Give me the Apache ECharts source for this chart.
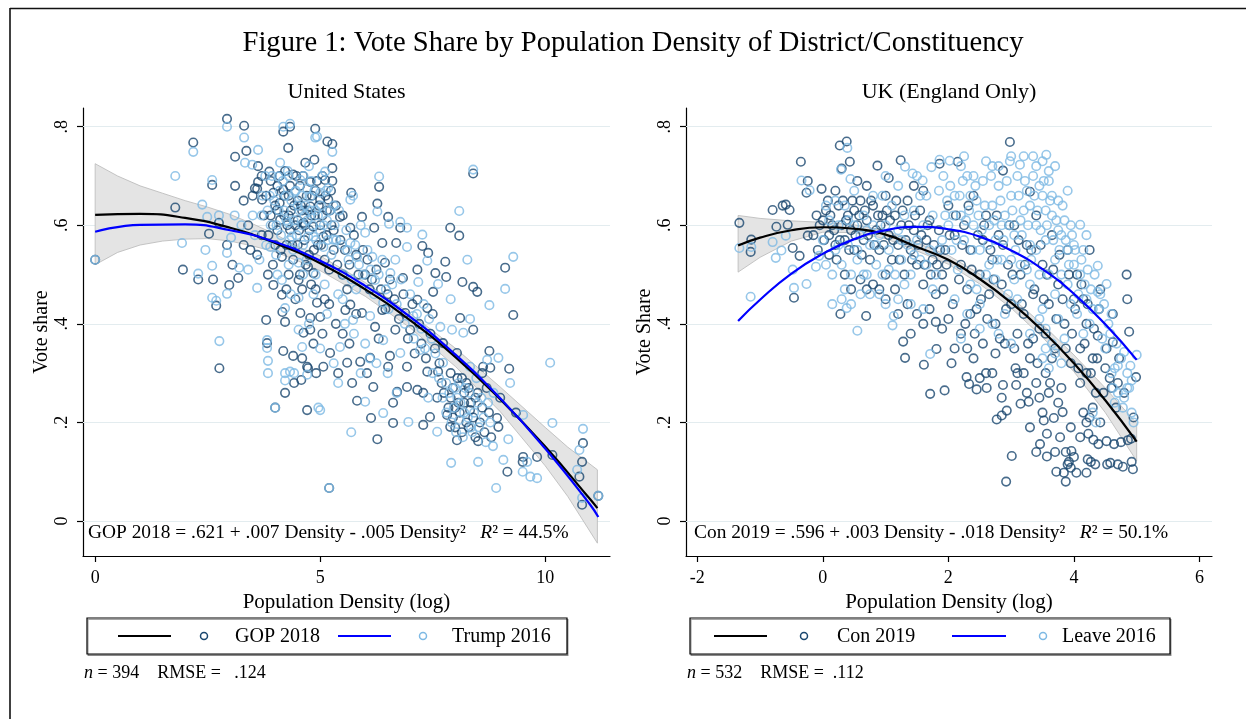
<!DOCTYPE html>
<html><head><meta charset="utf-8">
<script src="https://cdn.jsdelivr.net/npm/echarts@6/dist/echarts.min.js"></script>
<style>html,body{margin:0;padding:0;background:#fff}#c{width:1246px;height:719px}</style>
</head><body><div id="c"></div>
<script>
// ---------- DATA ----------
const yTicks = [0, 0.2, 0.4, 0.6, 0.8];
const usXTicks = [0, 5, 10];
const ukXTicks = [-2, 0, 2, 4, 6];

const usGOP = [
[0,0.53],[1.78,0.636],[1.95,0.51],[2.18,0.768],[2.29,0.49],[2.53,0.583],[2.6,0.682],[2.62,0.49],[2.69,0.437],[2.76,0.31],[2.93,0.816],[2.93,0.56],[2.98,0.479],[3.11,0.739],[3.11,0.68],[3.18,0.493],[3.31,0.802],[3.36,0.751],[3.4,0.6],[3.3,0.65],[3.05,0.52],[2.75,0.605],[3.5,0.66],[3.55,0.675],[3.62,0.72],[3.6,0.674],[3.62,0.688],[3.71,0.652],[3.45,0.55],[3.6,0.54],[3.7,0.58],[3.3,0.56],
[3.8,0.408],[3.82,0.361],[3.84,0.5],[3.87,0.709],[3.96,0.666],[3.96,0.479],[4.04,0.631],[4.11,0.611],[4.15,0.536],[4.15,0.459],[4.16,0.424],[4.18,0.345],[4.18,0.79],[4.18,0.672],[4.22,0.404],[4.22,0.26],[4.29,0.757],[4.33,0.8],[4.33,0.591],[4.4,0.703],[4.4,0.53],[4.4,0.335],[4.42,0.28],[4.52,0.489],[4.56,0.422],[4.58,0.286],[4.0,0.23],[4.63,0.382],[4.63,0.605],[4.67,0.727],[4.71,0.225],[4.71,0.313],[4.73,0.31],[4.73,0.516],[4.78,0.688],[4.78,0.412],[4.78,0.638],[4.78,0.388],[4.85,0.503],[4.85,0.597],[4.87,0.733],[4.89,0.796],[4.91,0.3],[4.93,0.443],
[3.9,0.62],[4.0,0.56],[4.05,0.68],[4.1,0.645],[4.2,0.62],[4.25,0.56],[4.3,0.66],[4.35,0.63],[4.45,0.6],[4.5,0.65],[4.5,0.56],[4.55,0.68],[4.6,0.63],[4.65,0.57],[4.7,0.66],[4.75,0.54],[4.8,0.62],[4.9,0.67],[4.95,0.56],[5.0,0.6],[5.0,0.652],[5.05,0.7],[5.07,0.577],[5.1,0.53],[5.11,0.692],[5.15,0.63],[5.16,0.77],[5.18,0.652],[5.2,0.51],[5.25,0.6],[5.27,0.765],[5.27,0.716],[5.27,0.69],[5.3,0.55],[4.3,0.5],[4.6,0.47],[4.9,0.47],[5.1,0.45],
[3.7,0.7],[3.75,0.62],[3.8,0.66],[3.85,0.58],[3.9,0.69],[3.95,0.6],[4.0,0.64],[4.05,0.59],[4.1,0.7],[4.12,0.55],[4.2,0.66],[4.22,0.71],[4.27,0.6],[4.3,0.62],[4.33,0.68],[4.38,0.56],[4.42,0.64],[4.47,0.7],[4.5,0.61],[4.53,0.59],[4.57,0.64],[4.62,0.7],[4.66,0.6],[4.68,0.52],[4.72,0.63],[4.76,0.59],[4.82,0.66],[4.86,0.55],[4.88,0.62],[4.93,0.69],[4.97,0.64],[5.02,0.56],[5.05,0.62],[5.12,0.66],[5.14,0.58],[5.22,0.63],[5.24,0.67],[5.3,0.59],[5.35,0.64],[5.38,0.52],[5.45,0.57],[5.5,0.62],[5.55,0.55],[5.6,0.47],[5.65,0.52],[5.75,0.58],[5.85,0.5],[5.95,0.55],[6.05,0.53],[6.15,0.49],[6.25,0.51],[6.35,0.47],[6.45,0.43],[6.55,0.49],[6.65,0.45],[6.75,0.41],[6.85,0.46],[6.95,0.37],[7.05,0.44],[7.1,0.34],[7.2,0.4],[7.25,0.36],[7.35,0.33],[7.45,0.38],[7.5,0.42],[7.55,0.35],[7.65,0.32],[7.75,0.26],[7.85,0.23],[7.9,0.25],[7.95,0.21],[8.0,0.19],[8.05,0.29],[8.1,0.22],[8.15,0.18],[8.2,0.24],[8.25,0.28],[8.3,0.19],[8.35,0.24],[8.4,0.21],[8.45,0.17],[8.5,0.26],[8.55,0.2],[8.6,0.23],[8.65,0.18],[8.7,0.27],[8.75,0.22],[8.8,0.17],[3.95,0.52],[4.25,0.47],[4.45,0.45],[4.55,0.5],[4.8,0.48],[5.2,0.44],[5.35,0.4],[5.65,0.36],[5.8,0.42],[6.3,0.37],[4.6,0.33],[4.85,0.36],[5.05,0.38],
[5.0,0.414],[5.07,0.313],[5.2,0.067],[5.22,0.341],[5.4,0.3],[5.44,0.617],[5.5,0.5],[5.56,0.428],[5.6,0.321],[5.67,0.439],[5.67,0.595],[5.69,0.666],[5.71,0.28],[5.8,0.54],[5.82,0.244],[5.89,0.323],[5.93,0.617],[5.93,0.422],[6.04,0.3],[6.11,0.331],[6.13,0.209],[6.18,0.272],[6.2,0.595],[6.22,0.394],[6.27,0.644],[6.27,0.166],[6.31,0.678],[6.38,0.564],[6.38,0.428],[6.44,0.524],[6.51,0.617],[6.51,0.313],[6.55,0.335],[6.62,0.24],[6.62,0.199],[6.67,0.388],[6.69,0.564],[6.71,0.262],[6.78,0.595],[6.84,0.493],[6.89,0.422],[6.93,0.313],[6.93,0.272],[6.0,0.5],[6.1,0.47],[5.5,0.38],[6.5,0.46],
[7.0,0.388],[7.16,0.51],[7.16,0.449],[7.16,0.266],[7.27,0.558],[7.29,0.26],[7.29,0.195],[7.38,0.432],[7.38,0.303],[7.4,0.544],[7.44,0.211],[7.51,0.465],[7.56,0.503],[7.62,0.303],[7.73,0.361],[7.78,0.526],[7.8,0.495],[7.82,0.215],[7.89,0.595],[7.89,0.191],[7.95,0.27],[8.0,0.23],[8.04,0.341],[8.04,0.164],[8.07,0.24],[8.09,0.579],[8.11,0.412],[8.16,0.485],[8.2,0.26],[8.25,0.2],[8.33,0.225],[8.4,0.705],[8.4,0.475],[8.4,0.388],[8.45,0.25],[8.49,0.465],[8.51,0.162],[8.6,0.3],[8.62,0.313],[8.76,0.345],[8.78,0.311],[8.93,0.209],[8.96,0.191],[7.6,0.25],[7.7,0.28],[7.9,0.3],[8.15,0.29],[8.3,0.27],
[9.11,0.514],[9.16,0.1],[9.2,0.309],[9.29,0.418],[9.5,0.12],[9.51,0.13],[9.82,0.13],[10.16,0.134],[10.84,0.158],[10.82,0.12],[10.76,0.09],[10.82,0.033],[11.18,0.051],[9.0,0.25],[9.35,0.22]
];

const usTrump = [
[0,0.53],[1.78,0.70],[1.93,0.564],[2.18,0.749],[2.29,0.502],[2.38,0.642],[2.45,0.55],[2.49,0.617],[2.6,0.518],[2.6,0.453],[2.6,0.692],[2.69,0.447],[2.75,0.62],[2.76,0.365],[2.93,0.8],[2.93,0.544],[2.93,0.461],[3.02,0.575],[3.1,0.62],[3.2,0.514],[3.25,0.6],[3.31,0.778],[3.33,0.727],[3.4,0.51],[3.49,0.723],[3.5,0.62],[3.55,0.58],[3.6,0.473],[3.62,0.753],[3.65,0.53],[3.7,0.62],[3.8,0.56],[3.82,0.367],[3.82,0.351],[3.84,0.325],[3.84,0.3],[3.9,0.6],
[3.89,0.556],[4.0,0.23],[4.02,0.54],[4.07,0.699],[4.11,0.727],[4.15,0.489],[4.18,0.8],[4.2,0.63],[4.22,0.432],[4.22,0.3],[4.22,0.285],[4.25,0.61],[4.29,0.605],[4.33,0.806],[4.33,0.303],[4.37,0.577],[4.42,0.3],[4.44,0.668],[4.5,0.64],[4.52,0.524],[4.52,0.453],[4.52,0.388],[4.56,0.692],[4.6,0.353],[4.63,0.7],[4.65,0.62],[4.71,0.674],[4.71,0.297],[4.73,0.577],[4.78,0.658],[4.85,0.577],[4.89,0.778],[4.93,0.78],[4.96,0.23],[5.0,0.666],[5.0,0.225],[5.07,0.556],[5.11,0.709],[5.18,0.676],[5.2,0.067],[5.27,0.749],[5.29,0.571],[5.3,0.64],[4.1,0.67],[4.3,0.7],[4.4,0.55],[4.6,0.6],[4.7,0.53],[4.8,0.69],[4.9,0.63],[5.0,0.59],[5.15,0.61],[4.35,0.46],[4.9,0.5],[5.1,0.48],
[3.72,0.66],[3.78,0.7],[3.83,0.63],[3.88,0.66],[3.93,0.7],[3.98,0.65],[4.03,0.6],[4.08,0.63],[4.13,0.58],[4.17,0.69],[4.23,0.66],[4.28,0.71],[4.32,0.57],[4.36,0.65],[4.41,0.61],[4.46,0.67],[4.48,0.58],[4.54,0.63],[4.58,0.66],[4.62,0.56],[4.67,0.64],[4.72,0.61],[4.75,0.72],[4.79,0.63],[4.83,0.6],[4.87,0.67],[4.91,0.57],[4.95,0.62],[5.02,0.64],[5.04,0.7],[5.08,0.6],[5.13,0.67],[5.17,0.57],[5.21,0.63],[5.25,0.54],[5.32,0.6],[5.36,0.57],[5.42,0.63],[5.48,0.56],[5.52,0.5],[5.58,0.59],[5.63,0.53],[5.7,0.49],[5.78,0.56],[5.86,0.52],[5.95,0.5],[6.05,0.55],[6.12,0.51],[6.2,0.46],[6.3,0.5],[6.38,0.53],[6.46,0.47],[6.52,0.43],[6.6,0.48],[6.7,0.44],[6.8,0.49],[6.88,0.4],[7.0,0.46],[7.08,0.37],[7.15,0.42],[7.25,0.39],[7.33,0.35],[7.42,0.41],[7.48,0.37],[7.56,0.34],[7.64,0.29],[7.72,0.25],[7.8,0.22],[7.87,0.26],[7.92,0.2],[7.97,0.23],[8.02,0.18],[8.08,0.28],[8.12,0.24],[8.17,0.17],[8.22,0.27],[8.28,0.21],[8.32,0.26],[8.38,0.18],[8.42,0.22],[8.47,0.29],[8.53,0.19],[8.58,0.25],[8.63,0.21],[8.68,0.16],[8.73,0.24],[8.78,0.2],[8.85,0.26],[4.05,0.5],[4.3,0.52],[4.62,0.5],[4.85,0.46],[5.15,0.42],[5.4,0.46],[5.55,0.4],[5.75,0.38],[6.0,0.36],[6.25,0.32],[4.75,0.4],[5.0,0.35],[5.3,0.32],
[5.44,0.353],[5.6,0.55],[5.67,0.652],[5.67,0.564],[5.69,0.18],[5.73,0.66],[5.73,0.408],[5.82,0.536],[5.9,0.6],[6.0,0.585],[6.0,0.242],[6.11,0.416],[6.16,0.536],[6.22,0.489],[6.27,0.628],[6.31,0.699],[6.4,0.443],[6.4,0.367],[6.4,0.219],[6.53,0.603],[6.56,0.503],[6.67,0.53],[6.78,0.607],[6.78,0.341],[6.93,0.595],[6.93,0.556],[6.96,0.201],[5.5,0.45],[5.8,0.47],[6.1,0.33],[6.5,0.3],[6.7,0.26],[5.4,0.28],[5.9,0.3],
[7.07,0.416],[7.18,0.485],[7.22,0.347],[7.27,0.581],[7.38,0.528],[7.4,0.25],[7.6,0.181],[7.62,0.481],[7.67,0.394],[7.73,0.321],[7.91,0.118],[7.93,0.388],[8.05,0.25],[8.09,0.629],[8.09,0.205],[8.18,0.382],[8.2,0.22],[8.27,0.53],[8.33,0.41],[8.33,0.313],[8.35,0.19],[8.4,0.713],[8.51,0.12],[8.71,0.327],[8.76,0.438],[8.84,0.152],[8.91,0.067],[8.96,0.331],[7.5,0.3],[7.8,0.28],[8.0,0.27],[8.5,0.24],[7.3,0.44],[7.9,0.45],
[9.07,0.124],[9.11,0.471],[9.18,0.166],[9.22,0.28],[9.29,0.536],[9.5,0.1],[9.51,0.215],[9.6,0.12],[9.67,0.09],[9.82,0.087],[10.11,0.321],[10.16,0.199],[10.84,0.187],[10.76,0.144],[10.71,0.104],[10.82,0.047],[11.18,0.051]
];

const usFitGOP = [[0,0.621],[1,0.623],[2,0.615],[3,0.595],[4,0.564],[5,0.523],[6,0.470],[7,0.407],[8,0.333],[9,0.247],[10,0.151],[11,0.044],[11.16,0.026]];
const usFitTrump = [[0,0.587],[1,0.601],[2,0.602],[3,0.590],[4,0.566],[5,0.528],[6,0.477],[7,0.414],[8,0.338],[9,0.249],[10,0.147],[11,0.033],[11.18,0.008]];
// [x, lower, upper]
const usBandGOP = [[0,0.520,0.725],[0.5,0.545,0.700],[1,0.560,0.680],[1.5,0.568,0.665],[2,0.572,0.650],[2.5,0.573,0.637],[3,0.568,0.622],[3.5,0.558,0.603],[4,0.546,0.582],[4.5,0.528,0.557],[5,0.508,0.538],[6,0.456,0.484],[7,0.392,0.421],[8,0.314,0.351],[9,0.222,0.272],[10,0.112,0.190],[10.5,0.050,0.150],[11.16,-0.045,0.104]];

const ukCon = [
[-1.33,0.605],[-1.14,0.571],[-1.15,0.546],[-0.80,0.631],[-0.64,0.64],[-0.59,0.642],[-0.53,0.631],[-0.74,0.597],[-0.56,0.601],[-0.48,0.554],[-0.37,0.538],[-0.46,0.453],[-0.35,0.729],[-0.24,0.69],[-0.26,0.666],[-0.24,0.579],[-0.02,0.674],[0.27,0.762],[0.38,0.77],[0.30,0.715],[0.43,0.729],[0.28,0.42],[0.69,0.416],[0.87,0.721],[1.24,0.732],[1.05,0.696],[1.28,0.364],[1.31,0.331],[1.61,0.317],[1.80,0.404],[1.81,0.349],
[-0.1,0.62],[-0.05,0.6],[0.05,0.63],[0.1,0.58],[0.15,0.6],[0.2,0.56],[0.1,0.54],[0.25,0.64],[0.3,0.6],[0.35,0.57],[0.4,0.62],[0.45,0.59],[0.5,0.55],[0.5,0.63],[0.55,0.6],[0.6,0.65],[0.65,0.57],[0.7,0.61],[0.75,0.53],[0.8,0.64],[0.85,0.59],[0.9,0.55],[0.95,0.62],[1.0,0.5],[1.0,0.66],[1.05,0.58],[1.1,0.53],[1.15,0.62],[1.2,0.56],[1.25,0.6],[1.3,0.5],[1.35,0.65],[1.4,0.55],[1.45,0.59],[1.5,0.52],[1.55,0.63],[1.6,0.48],[1.65,0.57],[1.7,0.61],[1.75,0.53],[1.8,0.46],[1.85,0.59],[1.9,0.5],[1.95,0.55],[0.6,0.49],[0.7,0.47],[0.8,0.48],[0.9,0.47],[1.0,0.45],[1.15,0.47],[0.35,0.5],[0.45,0.47],[1.35,0.44],[1.5,0.42],[1.7,0.43],[0.2,0.67],[0.55,0.69],[0.7,0.68],[1.45,0.68],[1.6,0.67],
[-0.15,0.58],[-0.08,0.55],[0.0,0.61],[0.02,0.57],[0.08,0.65],[0.12,0.62],[0.18,0.59],[0.22,0.53],[0.27,0.57],[0.32,0.65],[0.37,0.61],[0.42,0.55],[0.47,0.65],[0.52,0.58],[0.58,0.62],[0.62,0.54],[0.67,0.63],[0.72,0.58],[0.77,0.65],[0.82,0.56],[0.88,0.62],[0.92,0.6],[0.97,0.56],[1.02,0.63],[1.07,0.61],[1.12,0.57],[1.17,0.65],[1.22,0.53],[1.27,0.63],[1.32,0.57],[1.37,0.6],[1.42,0.53],[1.47,0.62],[1.52,0.56],[1.57,0.58],[1.62,0.52],[1.67,0.6],[1.72,0.5],[1.77,0.56],[1.82,0.52],[1.87,0.55],[1.92,0.47],[1.97,0.52],
[2.02,0.58],[2.07,0.44],[2.12,0.62],[2.17,0.49],[2.22,0.56],[2.27,0.4],[2.32,0.64],[2.37,0.51],[2.42,0.38],[2.47,0.58],[2.52,0.45],[2.57,0.6],[2.62,0.41],[2.67,0.55],[2.72,0.49],[2.77,0.62],[2.82,0.37],[2.87,0.56],[2.92,0.43],[2.97,0.6],[3.02,0.5],[3.07,0.31],[3.12,0.57],[3.17,0.44],[3.22,0.52],[3.27,0.36],[3.32,0.55],[3.37,0.47],[3.42,0.32],[3.47,0.56],[3.52,0.45],[3.57,0.5],[3.62,0.28],[3.67,0.51],[3.72,0.41],[3.77,0.54],[3.82,0.45],[3.87,0.35],[3.92,0.5],[3.97,0.38],[4.02,0.43],[4.07,0.31],[4.12,0.48],[4.17,0.36],[4.22,0.44],[4.27,0.3],[4.32,0.39],[4.37,0.33],[4.42,0.47],[4.47,0.26],[4.52,0.35],[4.57,0.29],[4.62,0.42],[4.67,0.23],[4.72,0.33],[4.8,0.26],[4.85,0.45],[4.95,0.21],
[1.2,0.42],[1.4,0.38],[1.6,0.4],[1.9,0.39],[2.05,0.32],[2.3,0.35],[2.5,0.29],[2.7,0.3],[2.85,0.25],[3.1,0.3],[3.25,0.26],[3.5,0.22],[3.6,0.26],[3.78,0.17],[3.95,0.19],[4.1,0.17],[3.3,0.19],[3.4,0.14],[3.7,0.14],
[1.86,0.725],[2.15,0.729],[2.98,0.769],[2.87,0.711],[3.3,0.668],[2.0,0.64],[2.1,0.58],[2.2,0.52],[2.25,0.6],[2.3,0.47],[2.35,0.55],[2.4,0.66],[2.45,0.43],[2.5,0.5],[2.55,0.57],[2.6,0.62],[2.65,0.46],[2.7,0.53],[2.75,0.4],[2.8,0.58],[2.85,0.48],[2.9,0.36],[2.95,0.52],[3.0,0.44],[3.05,0.6],[3.1,0.38],[3.15,0.5],[3.2,0.42],[3.25,0.56],[3.3,0.33],[3.35,0.46],[3.4,0.62],[3.45,0.39],[3.5,0.52],[3.55,0.3],[3.6,0.44],[3.65,0.58],[3.7,0.35],[3.75,0.48],[3.8,0.27],[3.85,0.4],[3.9,0.55],[3.95,0.32],[4.0,0.45],[2.0,0.41],[2.1,0.35],[2.2,0.38],[2.4,0.33],[2.55,0.36],[2.6,0.3],[2.75,0.34],[2.35,0.42],[3.2,0.3],[3.4,0.28],[3.55,0.38],[3.65,0.33],[3.75,0.24],[3.05,0.35],[3.35,0.37],[3.45,0.25],
[1.71,0.258],[1.94,0.265],[2.29,0.292],[2.33,0.278],[2.45,0.267],[2.61,0.27],[2.87,0.276],[3.08,0.276],[2.77,0.206],[2.85,0.214],[2.93,0.224],[3.15,0.238],[3.28,0.242],[3.01,0.132],[2.92,0.08],[3.46,0.156],[3.57,0.177],[3.57,0.131],[3.52,0.204],[3.68,0.209],[3.82,0.221],[3.87,0.14],[3.96,0.142],[4.0,0.13],[3.92,0.12],[3.72,0.1],[3.84,0.098],[3.9,0.115],[3.95,0.108],[4.04,0.098],[4.2,0.098],[3.87,0.08],[4.23,0.177],[4.31,0.165],[4.39,0.156],[4.52,0.162],[4.64,0.156],[4.75,0.16],[4.86,0.164],[4.91,0.167],[4.22,0.125],[4.27,0.12],[4.34,0.115],[4.53,0.115],[4.58,0.118],[4.7,0.115],[4.78,0.11],[4.92,0.12],[4.94,0.105],[4.2,0.2],[4.25,0.21],[4.3,0.23],[4.42,0.2],[4.15,0.22],[4.6,0.27],[4.99,0.292],
[4.84,0.5],[4.88,0.384],[4.62,0.363],[4.38,0.376],[4.2,0.4],[4.1,0.35],[4.3,0.33],[4.5,0.31],[4.7,0.28],[4.05,0.5],[4.15,0.45],[4.25,0.55],[4.4,0.43],[4.1,0.28],[4.2,0.3],[4.35,0.26]
];

const ukLeave = [
[-1.33,0.554],[-1.14,0.556],[-1.15,0.455],[-0.80,0.566],[-0.75,0.534],[-0.66,0.549],[-0.59,0.579],[-0.48,0.51],[-0.46,0.473],[-0.26,0.481],[-0.34,0.691],[-0.21,0.671],[-0.11,0.516],[-0.06,0.538],[0.39,0.757],[0.29,0.713],[0.44,0.694],[0.55,0.386],[0.38,0.432],[1.11,0.397],[1.13,0.416],[1.31,0.719],[1.43,0.705],[1.59,0.691],[1.73,0.718],[1.71,0.339],
[0.0,0.57],[0.05,0.52],[0.1,0.61],[0.15,0.5],[0.2,0.55],[0.25,0.6],[0.3,0.52],[0.35,0.64],[0.4,0.56],[0.45,0.5],[0.5,0.6],[0.55,0.53],[0.6,0.58],[0.65,0.62],[0.7,0.5],[0.75,0.56],[0.8,0.6],[0.85,0.52],[0.9,0.58],[0.95,0.5],[1.0,0.6],[1.05,0.55],[1.1,0.64],[1.15,0.5],[1.2,0.59],[1.25,0.53],[1.3,0.62],[1.35,0.56],[1.4,0.5],[1.45,0.63],[1.5,0.57],[1.55,0.53],[1.6,0.6],[1.65,0.66],[1.7,0.55],[1.75,0.62],[1.8,0.5],[1.85,0.67],[1.9,0.57],[1.95,0.62],[0.3,0.45],[0.45,0.44],[0.6,0.46],[0.75,0.46],[0.9,0.46],[1.0,0.44],[1.2,0.45],[1.4,0.44],[1.6,0.43],[0.2,0.65],[0.5,0.67],[0.8,0.66],[1.0,0.7],[1.5,0.7],[1.2,0.68],[0.05,0.64],[0.35,0.47],[0.15,0.44],
[0.55,0.55],[0.65,0.5],[0.85,0.56],[1.05,0.51],[1.25,0.57],[1.45,0.54],[1.65,0.52],[1.85,0.55],[0.25,0.56],[0.4,0.61],[0.7,0.59],[1.3,0.48],[1.75,0.47],[1.55,0.66],[0.95,0.66],
[1.86,0.733],[2.02,0.731],[2.98,0.73],[3.14,0.723],[3.56,0.743],[3.4,0.72],[3.5,0.73],[2.0,0.6],[2.05,0.55],[2.1,0.66],[2.15,0.51],[2.2,0.62],[2.25,0.57],[2.3,0.7],[2.35,0.48],[2.4,0.6],[2.45,0.65],[2.5,0.55],[2.55,0.69],[2.6,0.5],[2.65,0.6],[2.7,0.64],[2.75,0.57],[2.8,0.68],[2.85,0.53],[2.9,0.62],[2.95,0.46],[3.0,0.66],[3.05,0.58],[3.1,0.7],[3.15,0.52],[3.2,0.63],[3.25,0.67],[3.3,0.56],[3.35,0.7],[3.4,0.6],[3.45,0.5],[3.5,0.66],[3.55,0.57],[3.6,0.69],[3.65,0.62],[3.7,0.53],[3.75,0.65],[3.8,0.58],[3.85,0.61],[3.9,0.55],[3.95,0.6],[4.0,0.56],[2.1,0.45],[2.3,0.42],[2.5,0.44],[2.7,0.4],[2.9,0.42],[3.1,0.45],[3.3,0.48],[3.5,0.43],[3.7,0.46],[3.9,0.48],[2.2,0.72],[2.6,0.73],[2.4,0.7],[2.8,0.72],[3.2,0.74],[3.6,0.71],[3.3,0.64],[3.45,0.68],[3.55,0.63],[3.65,0.66],[2.35,0.66],[2.65,0.52],[2.85,0.6],[3.0,0.53],[3.15,0.61],[3.4,0.55],[3.75,0.59],
[1.92,0.7],[1.98,0.65],[2.03,0.68],[2.08,0.62],[2.13,0.57],[2.18,0.66],[2.23,0.69],[2.28,0.61],[2.33,0.63],[2.38,0.55],[2.43,0.68],[2.48,0.62],[2.53,0.59],[2.58,0.64],[2.63,0.56],[2.68,0.7],[2.73,0.61],[2.78,0.53],[2.83,0.65],[2.88,0.57],[2.93,0.69],[2.97,0.6],[3.02,0.63],[3.07,0.55],[3.12,0.66],[3.17,0.58],[3.22,0.69],[3.27,0.6],[3.32,0.53],[3.37,0.66],[3.42,0.63],[3.47,0.59],[3.52,0.69],[3.57,0.6],[3.62,0.65],[3.67,0.57],[3.72,0.61],[3.77,0.55],[3.82,0.64],[3.87,0.57],[3.92,0.52],[3.97,0.58],[4.02,0.55],[4.07,0.46],[4.12,0.53],[4.17,0.48],[4.22,0.51],[4.27,0.47],[4.33,0.5],[4.42,0.46],[4.48,0.44],[4.58,0.38],[4.68,0.36],[4.75,0.33],[4.85,0.27],[2.45,0.47],[2.75,0.49],[3.05,0.49],[3.25,0.51],[3.6,0.5],[3.8,0.5],[3.95,0.44],[3.75,0.41],[3.55,0.39],[3.85,0.37],[2.25,0.74],[2.7,0.72],[3.0,0.74],[3.35,0.74],[3.7,0.72],[3.9,0.67],
[3.5,0.33],[3.55,0.35],[3.6,0.31],[3.7,0.34],[3.8,0.32],[3.65,0.36],[2.8,0.38],[3.0,0.36],[2.5,0.39],[2.2,0.37],[3.3,0.38],[3.45,0.41],
[4.1,0.601],[4.38,0.518],[4.52,0.481],[4.38,0.465],[4.3,0.43],[4.4,0.43],[5.0,0.337],[4.8,0.343],[4.7,0.315],[4.9,0.315],[4.6,0.3],[4.65,0.31],[4.85,0.3],[4.92,0.285],[4.88,0.27],[4.8,0.25],[4.7,0.26],[4.62,0.27],[4.65,0.24],[4.78,0.23],[4.92,0.22],[4.95,0.2],[4.3,0.22],[4.35,0.2],[4.1,0.5],[4.15,0.55],[4.2,0.45],[4.25,0.4],[4.05,0.42],[4.15,0.38],[4.45,0.37],[4.55,0.4],[4.0,0.52],[4.2,0.58],[4.5,0.35],[4.6,0.42]
];

const ukFitCon = [[-1.35,0.559],[-1,0.575],[-0.5,0.590],[0,0.596],[0.5,0.593],[1,0.581],[1.5,0.556],[2,0.530],[2.5,0.491],[3,0.443],[3.5,0.386],[4,0.320],[4.5,0.245],[5,0.161]];
const ukFitLeave = [[-1.35,0.406],[-1,0.449],[-0.5,0.502],[0,0.542],[0.5,0.572],[1,0.590],[1.5,0.597],[2,0.592],[2.5,0.577],[3,0.549],[3.5,0.511],[4,0.461],[4.5,0.399],[5,0.327]];
const ukBandCon = [[-1.35,0.505,0.620],[-1,0.535,0.614],[-0.5,0.568,0.609],[0,0.586,0.606],[0.5,0.585,0.601],[1,0.573,0.589],[1.5,0.548,0.564],[2,0.521,0.539],[2.5,0.481,0.501],[3,0.432,0.454],[3.5,0.373,0.399],[4,0.303,0.337],[4.5,0.220,0.270],[5,0.122,0.198]];

// ---------- STYLE / CHART ----------
const SERIF = "'Liberation Serif','Times New Roman',Times,serif";
const DARK = '#1a476f', LIGHT = '#7db9e4';
const chart = echarts.init(document.getElementById('c'));

function xAx(gi, min, max, ticks) {
  return {type:'value', gridIndex:gi, min:min, max:max,
    name:'Population Density (log)', nameLocation:'middle', nameGap:31,
    nameTextStyle:{fontFamily:SERIF, fontSize:21, color:'#000'},
    axisLine:{show:true, onZero:false, lineStyle:{color:'#000', width:1.2}},
    axisTick:{show:true, customValues:ticks, length:6, lineStyle:{color:'#000', width:1.2}},
    axisLabel:{customValues:ticks, fontFamily:SERIF, fontSize:18, color:'#000', margin:13},
    splitLine:{show:false}};
}
function yAx(gi, name) {
  return {type:'value', gridIndex:gi, min:-0.071, max:0.838,
    name:name, nameLocation:'middle', nameGap:30,
    nameTextStyle:{fontFamily:SERIF, fontSize:20, color:'#000'},
    axisLine:{show:true, onZero:false, lineStyle:{color:'#000', width:1.2}},
    axisTick:{show:true, customValues:yTicks, length:6, lineStyle:{color:'#000', width:1.2}},
    axisLabel:{customValues:yTicks, rotate:90, fontFamily:SERIF, fontSize:18, color:'#000', margin:12,
      formatter:function(v){ return v === 0 ? '0' : String(v).replace(/^0\./, '.'); }},
    splitLine:{show:false}};
}
function gridLines(i) {
  return {type:'line', xAxisIndex:i, yAxisIndex:i, data:[], z:1, silent:true,
    markLine:{silent:true, z:1, symbol:['none','none'], label:{show:false},
      lineStyle:{color:'#e3ecef', width:1.2, type:'solid'}, emphasis:{disabled:true},
      data: yTicks.map(function(v){ return {yAxis:v}; })}};
}
function band(i, arr) {
  return {type:'custom', xAxisIndex:i, yAxisIndex:i, z:2, silent:true, data:arr, encode:{x:0, y:[1,2]},
    renderItem:function(params, api){
      if (params.dataIndex !== 0) return null;
      const up = arr.map(function(d){ return api.coord([d[0], d[2]]); });
      const lo = arr.slice().reverse().map(function(d){ return api.coord([d[0], d[1]]); });
      return {type:'polygon', shape:{points:up.concat(lo)}, style:{fill:'#e4e4e4', stroke:'#b8b8b8', lineWidth:0.8}};
    }};
}
function pts(i, arr, color, z) {
  return {type:'scatter', xAxisIndex:i, yAxisIndex:i, data:arr, z:z, symbol:'circle', symbolSize:8.5,
    itemStyle:{color:'rgba(0,0,0,0)', borderColor:color, borderWidth:1.6}, silent:true};
}
function fit(i, arr, color) {
  return {type:'line', xAxisIndex:i, yAxisIndex:i, data:arr, z:6, smooth:true, showSymbol:false, silent:true,
    lineStyle:{color:color, width:2.2}};
}

function txt(x, y, text, size, align) {
  return {type:'text', x:x, y:y, z:100, silent:true,
    style:{text:text, fontFamily:SERIF, fontSize:size, fill:'#000', align:align||'left', verticalAlign:'middle'}};
}
function richTxt(x, y, text, size) {
  return {type:'text', x:x, y:y, z:100, silent:true,
    style:{text:text, fontFamily:SERIF, fontSize:size, fill:'#000', align:'left', verticalAlign:'middle',
      rich:{n:{fontFamily:SERIF, fontSize:size, fill:'#000'}, i:{fontFamily:SERIF, fontSize:size, fontStyle:'italic', fill:'#000'}}}};
}
function legendBox(x0, items) {
  const g = [{type:'rect', z:99, silent:true, shape:{x:x0, y:618, width:480, height:36},
    style:{fill:'#fff', stroke:'#000', lineWidth:1.2, shadowColor:'rgba(0,0,0,0.35)', shadowOffsetX:1, shadowOffsetY:1.5}}];
  items.forEach(function(it){
    if (it.kind === 'line') g.push({type:'line', z:100, silent:true, shape:{x1:it.x1, y1:636, x2:it.x2, y2:636}, style:{stroke:it.color, lineWidth:2.2}});
    else if (it.kind === 'dot') g.push({type:'circle', z:100, silent:true, shape:{cx:it.x, cy:636, r:3.5}, style:{fill:'none', stroke:it.color, lineWidth:1.5}});
    else g.push(txt(it.x, 637, it.text, 20, 'left'));
  });
  return g;
}

const graphics = [].concat(
  [{type:'line', z:100, silent:true, shape:{x1:10, y1:8.5, x2:1246, y2:8.5}, style:{stroke:'#111', lineWidth:1.6}},
   {type:'line', z:100, silent:true, shape:{x1:10, y1:8, x2:10, y2:719}, style:{stroke:'#111', lineWidth:1.6}},
   txt(633, 43, 'Figure 1: Vote Share by Population Density of District/Constituency', 28.6, 'center'),
   txt(346.5, 92, 'United States', 22, 'center'),
   txt(949, 92, 'UK (England Only)', 22, 'center'),
   richTxt(88, 533, '{n|GOP 2018 = .621 + .007 Density - .005 Density²   }{i|R}{n|² = 44.5%}', 19.4),
   richTxt(694, 533, '{n|Con 2019 = .596 + .003 Density - .018 Density²   }{i|R}{n|² = 50.1%}', 19.4),
   richTxt(84, 673, '{i|n}{n| = 394    RMSE =   .124}', 18),
   richTxt(687, 673, '{i|n}{n| = 532    RMSE =  .112}', 18)],
  legendBox(87, [{kind:'line', x1:118, x2:171, color:'#000'}, {kind:'dot', x:204, color:DARK}, {kind:'text', x:235, text:'GOP 2018'},
                 {kind:'line', x1:338, x2:391, color:'#0000ff'}, {kind:'dot', x:423, color:LIGHT}, {kind:'text', x:452, text:'Trump 2016'}]),
  legendBox(690, [{kind:'line', x1:714, x2:767, color:'#000'}, {kind:'dot', x:804, color:DARK}, {kind:'text', x:837, text:'Con 2019'},
                 {kind:'line', x1:952, x2:1006, color:'#0000ff'}, {kind:'dot', x:1043, color:LIGHT}, {kind:'text', x:1062, text:'Leave 2016'}])
);

chart.setOption({
  animation:false,
  backgroundColor:'#fff',
  grid:[{left:83, top:108, width:527, height:448, outerBoundsMode:'none'},
        {left:686, top:108, width:526, height:448, outerBoundsMode:'none'}],
  xAxis:[xAx(0, -0.27, 11.44, usXTicks), xAx(1, -2.18, 6.2, ukXTicks)],
  yAxis:[yAx(0, 'Vote share'), yAx(1, 'Vote Share')],
  series:[
    gridLines(0), gridLines(1),
    band(0, usBandGOP), band(1, ukBandCon),
    pts(0, usGOP, DARK, 3), pts(0, usTrump, LIGHT, 4),
    pts(1, ukCon, DARK, 3), pts(1, ukLeave, LIGHT, 4),
    fit(0, usFitGOP, '#000'), fit(0, usFitTrump, '#0000ff'),
    fit(1, ukFitCon, '#000'), fit(1, ukFitLeave, '#0000ff')
  ],
  graphic:graphics
});
</script></body></html>
